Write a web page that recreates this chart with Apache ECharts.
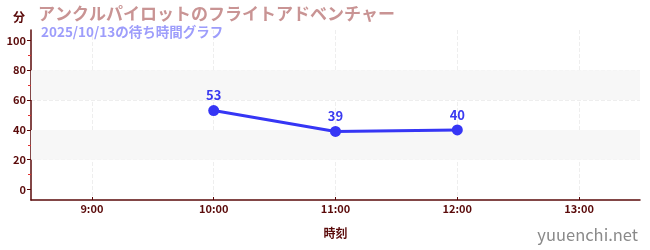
<!DOCTYPE html>
<html><head><meta charset="utf-8">
<script src="https://cdn.jsdelivr.net/npm/echarts@6/dist/echarts.min.js"></script>
<style>html,body{margin:0;padding:0;background:#fff}#c{width:650px;height:250px}</style>
</head><body><div id="c"></div>
<script>
const titleText = 'アンクルパイロットのフライトアドベンチャー';
const subtitleText = '2025/10/13の待ち時間グラフ';
const day = '2025-10-13';
const times = ['10:00', '11:00', '12:00'];
const waits = [53, 39, 40];
const yTicks = [0, 20, 40, 60, 80, 100];
const shadedBands = [[20, 40], [60, 80]];
const xRange = ['08:30', '13:30'];
const yRange = [-7, 107];

const toT = s => new Date(day + 'T' + s.padStart(5, '0') + ':00').getTime();
const FONT = '"Noto Sans CJK JP", "Noto Sans", sans-serif';
const AX = '#5a0a0a';

const chart = echarts.init(document.getElementById('c'), null, {renderer: 'canvas'});
chart.setOption({
  animation: false,
  textStyle: {fontFamily: FONT},
  title: [{
    text: titleText, left: 33, top: 0,
    textStyle: {fontFamily: FONT, fontSize: 17, fontWeight: 'bold', color: '#c99494'}
  }, {
    text: subtitleText, left: 36, top: 20,
    textStyle: {fontFamily: FONT, fontSize: 13.5, fontWeight: 'bold', color: '#9d9dfb'}
  }],
  grid: {left: 31, right: 10, top: 30, bottom: 50, containLabel: false},
  graphic: [{
    type: 'text', right: 12, bottom: 7,
    style: {text: 'yuuenchi.net', fontFamily: FONT, fontSize: 16.5, fill: '#8a8a8a', fontWeight: 'normal'}
  }],
  xAxis: {
    type: 'time', min: toT(xRange[0]), max: toT(xRange[1]),
    minInterval: 3600000, maxInterval: 3600000,
    name: '時刻', nameLocation: 'middle', nameGap: 27,
    nameTextStyle: {fontFamily: FONT, fontSize: 12, fontWeight: 'bold', color: AX},
    axisLine: {show: true, onZero: false, lineStyle: {color: AX, width: 1.5}},
    axisTick: {show: true, inside: true, length: 3, lineStyle: {color: AX}},
    axisLabel: {
      fontFamily: FONT, fontSize: 11, fontWeight: 'bold', color: AX, margin: 3,
      showMinLabel: false, showMaxLabel: false,
      formatter: v => { const d = new Date(v); return d.getMinutes() === 0 ? d.getHours() + ':00' : ''; }
    },
    splitLine: {show: true, showMinLine: false, showMaxLine: false, lineStyle: {color: '#eeeeee', type: 'dashed'}}
  },
  yAxis: {
    type: 'value', min: yRange[0], max: yRange[1],
    name: '分', nameLocation: 'end', nameGap: 7,
    nameTextStyle: {fontFamily: FONT, fontSize: 12, fontWeight: 'bold', color: AX, align: 'right', padding: [0, 6, 0, 0]},
    axisLine: {show: true, lineStyle: {color: AX, width: 1.5}},
    axisTick: {show: true, length: 4, lineStyle: {color: AX}, customValues: yTicks},
    minorTick: {show: true, splitNumber: 2, length: 3, lineStyle: {color: '#e03030'}},
    axisLabel: {
      fontFamily: FONT, fontSize: 11, fontWeight: 'bold', color: AX, margin: 5,
      customValues: yTicks
    },
    splitLine: {show: true, showMinLine: false, showMaxLine: false, lineStyle: {color: '#eeeeee', type: 'dashed'}}
  },
  series: [{
    type: 'line',
    data: times.map((t, i) => [toT(t), waits[i]]),
    symbol: 'circle', symbolSize: 11,
    itemStyle: {color: '#3636f5'},
    lineStyle: {color: '#3636f5', width: 3},
    label: {show: true, position: 'top', distance: 3, fontFamily: FONT, fontSize: 13, fontWeight: 'bold', color: '#3a3af0'},
    markArea: {
      silent: true,
      itemStyle: {color: '#f7f7f7'},
      data: shadedBands.map(b => [{yAxis: b[0]}, {yAxis: b[1]}])
    },
    z: 3
  }]
});
</script></body></html>
